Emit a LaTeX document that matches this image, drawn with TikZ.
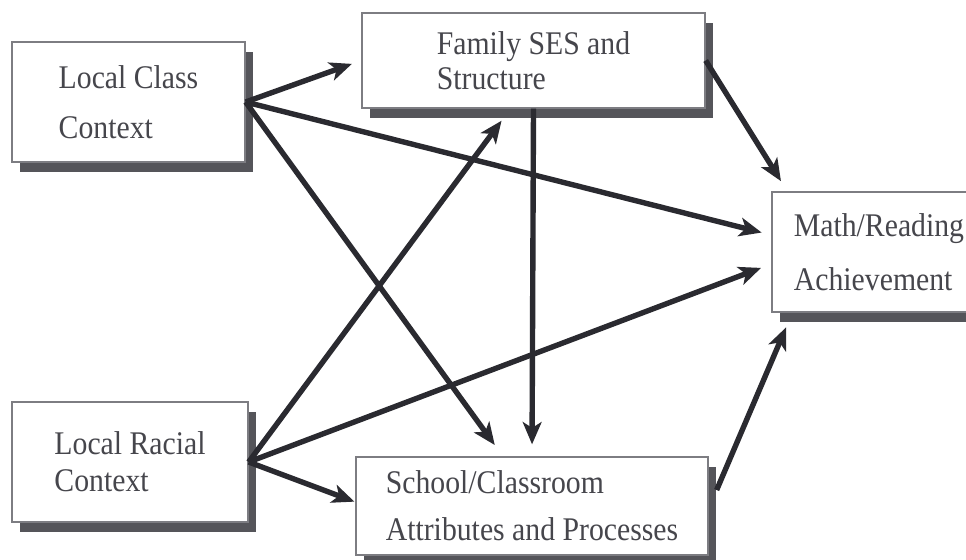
\documentclass[tikz,border=0pt]{standalone}
\usepackage{fontspec}
\setmainfont[FakeStretch=0.9]{Liberation Serif}
\definecolor{boxline}{RGB}{125,125,130}
\definecolor{boxshade}{RGB}{85,85,90}
\definecolor{arrowdark}{RGB}{42,42,48}
\definecolor{textgray}{RGB}{70,70,76}
\usetikzlibrary{arrows.meta,calc,shadows}

\begin{document}
\begin{tikzpicture}[x=0.03cm,y=-0.03cm,
  ctxbox/.style={draw=boxline,line width=1.1pt,fill=white,align=left,
    font=\fontsize{28.2}{29.9}\selectfont,text=textgray,inner sep=0pt,
    drop shadow={shadow xshift=0.24cm,shadow yshift=-0.3cm,fill=boxshade,opacity=1}},
  effarrow/.style={-{Stealth[length=19pt,width=16pt,inset=5pt]},line width=4.6pt,arrowdark}
]
  \useasboundingbox (0,0) rectangle (966,560);
  % Boxes
  \node[ctxbox,minimum width=6.99cm,minimum height=3.6cm] (lclass) at (128.5,102) {Local Class\\[12.8pt]Context};
  \node[ctxbox,minimum width=10.29cm,minimum height=2.85cm] (family) at (533.5,60.5) {Family SES and\\Structure};
  \node[ctxbox,minimum width=6.42cm,minimum height=3.6cm] (achieve) at (879,252) {Math/Reading\\[16.2pt]Achievement};
  \node[ctxbox,minimum width=7.08cm,minimum height=3.6cm] (lracial) at (130,462) {Local Racial\\[2pt]Context};
  \node[ctxbox,minimum width=10.56cm,minimum height=2.94cm] (school) at (532,506) {School/Classroom\\[10pt]Attributes and Processes};
  % Arrows
  \draw[effarrow,shorten >=0.3cm] (lclass.east) -- (family.west);
  \draw[effarrow,shorten >=0.3cm] (lclass.east) -- ($(achieve.west)+(0,-17)$);
  \draw[effarrow,shorten >=0.42cm] (lclass.east) -- ($(school.north)+(-29,0)$);
  \draw[effarrow,shorten >=0.45cm] (lracial.east) -- ($(family.south)+(-23,0)$);
  \draw[effarrow,shorten >=0.33cm] (lracial.east) -- ($(achieve.west)+(0,12)$);
  \draw[effarrow,shorten >=0.03cm] (lracial.east) -- ($(school.west)+(0,-4)$);
  \draw[effarrow,shorten >=0.36cm] (family.south) -- (school.north);
  \draw[effarrow,shorten >=0.36cm] (family.east) -- ($(achieve.north west)+(16,0)$);
  \draw[effarrow,shorten >=0.48cm] ($(school.east)+(8,-16)$) -- ($(achieve.south west)+(21,0)$);
\end{tikzpicture}
\end{document}
